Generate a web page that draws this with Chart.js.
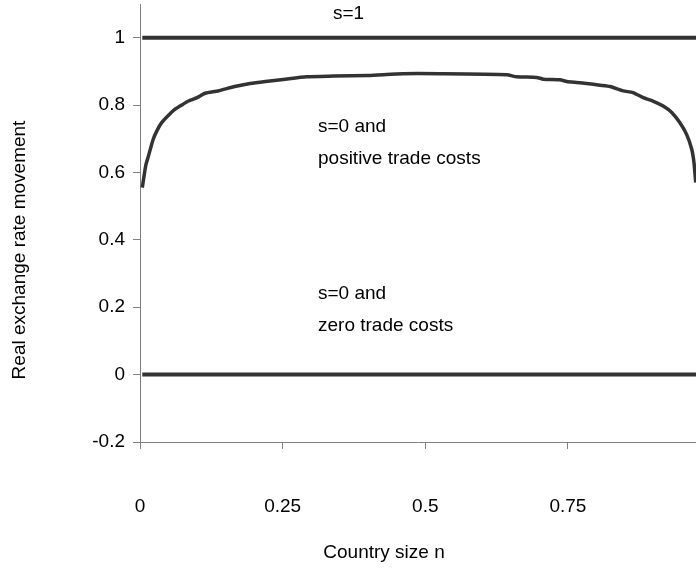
<!DOCTYPE html>
<html>
<head>
<meta charset="utf-8">
<script src="https://cdn.jsdelivr.net/npm/chart.js@4/dist/chart.umd.min.js"></script>
<style>
html,body{margin:0;padding:0;background:#fff;}
#wrap{width:696px;height:571px;position:relative;}
</style>
</head>
<body>
<div id="wrap"><canvas id="c" width="696" height="571"></canvas></div>
<script>
// ---- data ----
const xTicks = [0, 0.25, 0.5, 0.75];
const xTickLabels = ["0", "0.25", "0.5", "0.75"];
const yTicks = [-0.2, 0, 0.2, 0.4, 0.6, 0.8, 1];
const yTickLabels = ["-0.2", "0", "0.2", "0.4", "0.6", "0.8", "1"];

const flatX = [0.004, 0.975];
const s1Values = [1, 1];
const zeroCostValues = [0, 0];

const curveX = [0.004,0.010,0.015,0.023,0.030,0.038,0.050,0.061,0.075,0.085,0.100,0.114,0.137,0.166,0.193,0.220,0.251,0.292,0.340,0.400,0.461,0.526,0.643,0.660,0.695,0.707,0.736,0.748,0.765,0.783,0.806,0.824,0.847,0.864,0.882,0.899,0.917,0.932,0.946,0.958,0.967,0.971,0.974];
const curveY = [0.555,0.620,0.650,0.698,0.725,0.748,0.770,0.787,0.802,0.812,0.822,0.835,0.842,0.855,0.864,0.870,0.876,0.884,0.886,0.888,0.893,0.893,0.890,0.884,0.882,0.877,0.875,0.870,0.867,0.864,0.859,0.855,0.842,0.837,0.822,0.812,0.797,0.778,0.748,0.713,0.669,0.629,0.570];

const labels = {
  s1: "s=1",
  posA: "s=0 and", posB: "positive trade costs",
  zeroA: "s=0 and", zeroB: "zero trade costs",
  xTitle: "Country size n",
  yTitle: "Real exchange rate movement"
};

const FONT = "'Liberation Sans', Arial, sans-serif";
const FS = 19;
const LINE = "#333333";
const AXIS = "#808080";

const pts = (xs, ys) => xs.map((x, i) => ({x: x, y: ys[i]}));

const textPlugin = {
  id: 'texts',
  afterDraw(chart) {
    const ctx = chart.ctx;
    ctx.save();
    ctx.fillStyle = "#000";
    ctx.font = FS + "px " + FONT;
    ctx.textAlign = "left";
    ctx.textBaseline = "alphabetic";
    ctx.fillText(labels.s1, 333, 19);
    ctx.fillText(labels.posA, 318, 132);
    ctx.fillText(labels.posB, 318, 164);
    ctx.fillText(labels.zeroA, 318, 299);
    ctx.fillText(labels.zeroB, 318, 331);
    ctx.textAlign = "center";
    ctx.textBaseline = "middle";
    ctx.fillText(labels.xTitle, 384, 553);
    ctx.translate(20, 250);
    ctx.rotate(-Math.PI / 2);
    ctx.fillText(labels.yTitle, 0, 0);
    ctx.restore();
  }
};

new Chart(document.getElementById('c'), {
  type: 'line',
  data: {
    datasets: [
      { data: pts(flatX, s1Values), borderColor: LINE, borderWidth: 4, pointRadius: 0, tension: 0 },
      { data: pts(curveX, curveY), borderColor: LINE, borderWidth: 3.5, pointRadius: 0, tension: 0.2 },
      { data: pts(flatX, zeroCostValues), borderColor: LINE, borderWidth: 4, pointRadius: 0, tension: 0 }
    ]
  },
  options: {
    responsive: false,
    animation: false,
    events: [],
    layout: { padding: { left: 0, right: 0, top: 4, bottom: 0 } },
    plugins: { legend: { display: false }, tooltip: { enabled: false }, title: { display: false } },
    scales: {
      x: {
        type: 'linear', min: 0, max: 0.9745,
        afterBuildTicks: s => { s.ticks = xTicks.map(v => ({value: v})); },
        afterFit: s => { s.height = 129; s.paddingLeft = 0; s.paddingRight = 0; },
        ticks: {
          callback: (v) => xTickLabels[xTicks.indexOf(v)] ?? "",
          color: "#000", font: { family: FONT, size: FS }, padding: 46, maxRotation: 0
        },
        grid: { drawOnChartArea: false, drawTicks: true, tickLength: 7, color: AXIS, lineWidth: 1 },
        border: { display: true, color: AXIS, width: 1 }
      },
      y: {
        type: 'linear', min: -0.2, max: 1.1,
        afterBuildTicks: s => { s.ticks = yTicks.map(v => ({value: v})); },
        afterFit: s => { s.width = 140; s.paddingTop = 0; s.paddingBottom = 0; },
        ticks: {
          callback: (v) => { const i = yTicks.findIndex(t => Math.abs(t - v) < 1e-9); return i >= 0 ? yTickLabels[i] : ""; },
          color: "#000", font: { family: FONT, size: FS }, padding: 8
        },
        grid: { drawOnChartArea: false, drawTicks: true, tickLength: 7, color: AXIS, lineWidth: 1 },
        border: { display: true, color: AXIS, width: 1 }
      }
    }
  },
  plugins: [textPlugin]
});
</script>
</body>
</html>
